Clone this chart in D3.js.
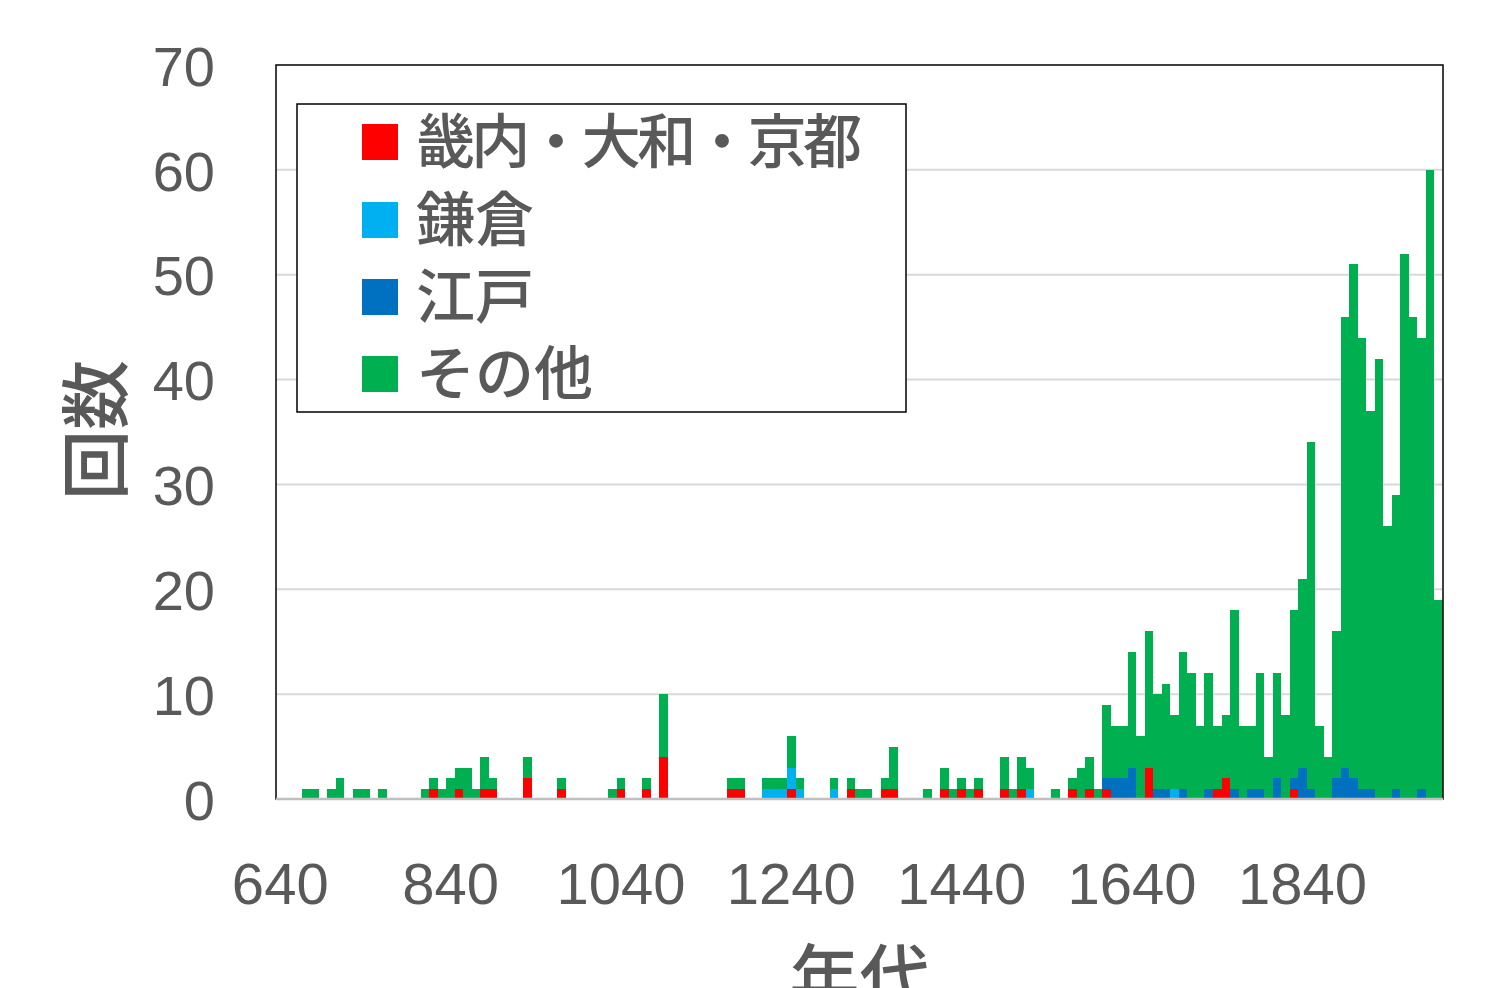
<!DOCTYPE html>
<html><head><meta charset="utf-8">
<script src="https://cdn.jsdelivr.net/npm/d3@7"></script>
<style>
html,body{margin:0;padding:0;background:#fff;}
svg{display:block;}
</style></head>
<body>
<svg id="chart" width="1504" height="988"></svg>
<script>
// Categories: decades 640..2000
const years = [
 640,650,660,670,680,690,700,710,720,730,
 740,750,760,770,780,790,800,810,820,830,
 840,850,860,870,880,890,900,910,920,930,
 940,950,960,970,980,990,1000,1010,1020,1030,
 1040,1050,1060,1070,1080,1090,1100,1110,1120,1130,
 1140,1150,1160,1170,1180,1190,1200,1210,1220,1230,
 1240,1250,1260,1270,1280,1290,1300,1310,1320,1330,
 1340,1350,1360,1370,1380,1390,1400,1410,1420,1430,
 1440,1450,1460,1470,1480,1490,1500,1510,1520,1530,
 1540,1550,1560,1570,1580,1590,1600,1610,1620,1630,
 1640,1650,1660,1670,1680,1690,1700,1710,1720,1730,
 1740,1750,1760,1770,1780,1790,1800,1810,1820,1830,
 1840,1850,1860,1870,1880,1890,1900,1910,1920,1930,
 1940,1950,1960,1970,1980,1990,2000];

const seriesNames = ["畿内・大和・京都", "鎌倉", "江戸", "その他"];

const kinai = [
 0,0,0,0,0,0,0,0,0,0,
 0,0,0,0,0,0,0,0,1,0,
 0,1,0,0,1,1,0,0,0,2,
 0,0,0,1,0,0,0,0,0,0,
 1,0,0,1,0,4,0,0,0,0,
 0,0,0,1,1,0,0,0,0,0,
 1,0,0,0,0,0,0,1,0,0,
 0,1,1,0,0,0,0,0,1,0,
 1,0,1,0,0,1,0,1,0,0,
 0,0,0,1,0,1,0,1,0,0,
 0,0,3,0,0,0,0,0,0,0,
 1,2,0,0,0,0,0,0,0,1,
 0,0,0,0,0,0,0,0,0,0,
 0,0,0,0,0,0,0];

const kamakura = [
 0,0,0,0,0,0,0,0,0,0,
 0,0,0,0,0,0,0,0,0,0,
 0,0,0,0,0,0,0,0,0,0,
 0,0,0,0,0,0,0,0,0,0,
 0,0,0,0,0,0,0,0,0,0,
 0,0,0,0,0,0,0,1,1,1,
 2,1,0,0,0,1,0,0,0,0,
 0,0,0,0,0,0,0,0,0,0,
 0,0,0,0,0,0,0,0,1,0,
 0,0,0,0,0,0,0,0,0,0,
 0,0,0,0,0,1,0,0,0,0,
 0,0,0,0,0,0,0,0,0,0,
 0,0,0,0,0,0,0,0,0,0,
 0,0,0,0,0,0,0];

const edo = [
 0,0,0,0,0,0,0,0,0,0,
 0,0,0,0,0,0,0,0,0,0,
 0,0,0,0,0,0,0,0,0,0,
 0,0,0,0,0,0,0,0,0,0,
 0,0,0,0,0,0,0,0,0,0,
 0,0,0,0,0,0,0,0,0,0,
 0,0,0,0,0,0,0,0,0,0,
 0,0,0,0,0,0,0,0,0,0,
 0,0,0,0,0,0,0,0,0,0,
 0,0,0,0,0,0,0,1,2,2,
 3,0,0,1,1,0,1,0,0,1,
 0,0,1,0,1,1,0,2,0,1,
 3,1,0,0,2,3,2,1,1,0,
 0,1,0,0,1,0,0];

const sonota = [
 0,0,0,1,1,0,1,2,0,1,
 1,0,1,0,0,0,0,1,1,1,
 2,2,3,1,3,1,0,0,0,2,
 0,0,0,1,0,0,0,0,0,1,
 1,0,0,1,0,6,0,0,0,0,
 0,0,0,1,1,0,0,1,1,1,
 3,1,0,0,0,1,0,1,1,1,
 0,1,4,0,0,0,1,0,2,1,
 1,1,1,0,0,3,1,3,2,0,
 0,1,0,1,3,3,1,7,5,5,
 11,6,13,9,10,7,13,12,7,11,
 6,6,17,7,6,11,4,10,8,16,
 18,33,7,4,14,43,49,43,36,42,
 26,28,52,46,43,60,19];

const xTickLabels = [640, 840, 1040, 1240, 1440, 1640, 1840];
const yTickLabels = [0, 10, 20, 30, 40, 50, 60, 70];
const colors = ["#FF0000", "#00B0F0", "#0070C0", "#00B050"];

// Build table for stacking
const keys = ["kinai", "kamakura", "edo", "sonota"];
const table = years.map((y, i) => ({year: y, kinai: kinai[i], kamakura: kamakura[i], edo: edo[i], sonota: sonota[i]}));

const svg = d3.select("#chart");
svg.append("rect").attr("width", 1504).attr("height", 988).attr("fill", "#fff");

const L = 276, R = 1443, T = 65, B = 799;
const x = d3.scaleBand().domain(years).range([L, R]).padding(0);
const y = d3.scaleLinear().domain([0, 70]).range([B, T]);

const textColor = "#595959";

// gridlines
svg.append("g").selectAll("line").data(yTickLabels.filter(v => v > 0 && v < 70)).join("line")
  .attr("x1", L).attr("x2", R).attr("y1", d => y(d)).attr("y2", d => y(d))
  .attr("stroke", "#d9d9d9").attr("stroke-width", 2);

// bars
const stack = d3.stack().keys(keys)(table);
svg.append("g").selectAll("g").data(stack).join("g")
  .attr("fill", (d, i) => colors[i])
  .selectAll("rect").data(d => d.filter(s => s[1] > s[0])).join("rect")
  .attr("x", d => x(d.data.year))
  .attr("width", x.bandwidth())
  .attr("y", d => y(d[1]))
  .attr("height", d => y(d[0]) - y(d[1]))
  .attr("shape-rendering", "crispEdges");

// plot border
svg.append("rect").attr("x", L).attr("y", T).attr("width", R - L).attr("height", B - T)
  .attr("fill", "none").attr("stroke", "#000").attr("stroke-width", 1.5);
// bottom axis line
svg.append("line").attr("x1", L).attr("x2", R).attr("y1", B).attr("y2", B)
  .attr("stroke", "#bfbfbf").attr("stroke-width", 2.5);

// y axis labels
const yAxis = d3.axisLeft(y).tickValues(yTickLabels).tickSize(0).tickPadding(0);
const yg = svg.append("g").attr("transform", `translate(215,0)`).call(yAxis);
yg.select(".domain").remove();
yg.selectAll("text").attr("font-family", "'Liberation Sans', Arial, sans-serif")
  .attr("font-size", 56).attr("fill", textColor).attr("dy", "0.36em").attr("x", 0);

// x axis labels
const xAxis = d3.axisBottom(x).tickValues(xTickLabels).tickSize(0).tickPadding(0);
const xg = svg.append("g").attr("transform", `translate(0,${B})`).call(xAxis);
xg.select(".domain").remove();
xg.selectAll("text").attr("font-family", "'Liberation Sans', Arial, sans-serif")
  .attr("font-size", 58).attr("fill", textColor).attr("dy", null).attr("y", 105);

// axis titles
svg.append("text").attr("transform", "translate(122,430) rotate(-90)")
  .attr("text-anchor", "middle").attr("font-family", "'Noto Sans CJK JP', sans-serif")
  .attr("font-weight", 500)
  .attr("font-size", 70).attr("fill", textColor).text("回数");
svg.append("text").attr("x", (L + R) / 2).attr("y", 1003)
  .attr("text-anchor", "middle").attr("font-family", "'Noto Sans CJK JP', sans-serif")
  .attr("font-weight", 500)
  .attr("font-size", 70).attr("fill", textColor).text("年代");

// legend
const lg = svg.append("g");
lg.append("rect").attr("x", 297).attr("y", 104).attr("width", 609).attr("height", 308)
  .attr("fill", "#fff").attr("stroke", "#000").attr("stroke-width", 1.5);
const rowY = [142, 220, 297, 374];
seriesNames.forEach((name, i) => {
  lg.append("rect").attr("x", 362).attr("y", rowY[i] - 18).attr("width", 36).attr("height", 36)
    .attr("fill", colors[i]);
  const t = lg.append("text").attr("x", 416).attr("y", rowY[i]).attr("dy", "0.36em")
    .attr("font-family", "'Noto Sans CJK JP', sans-serif").attr("font-size", 59)
    .attr("font-weight", 500)
    .attr("fill", textColor).text(name);
  if (i === 0) t.attr("textLength", 446).attr("lengthAdjust", "spacing");
});
</script>
</body></html>
